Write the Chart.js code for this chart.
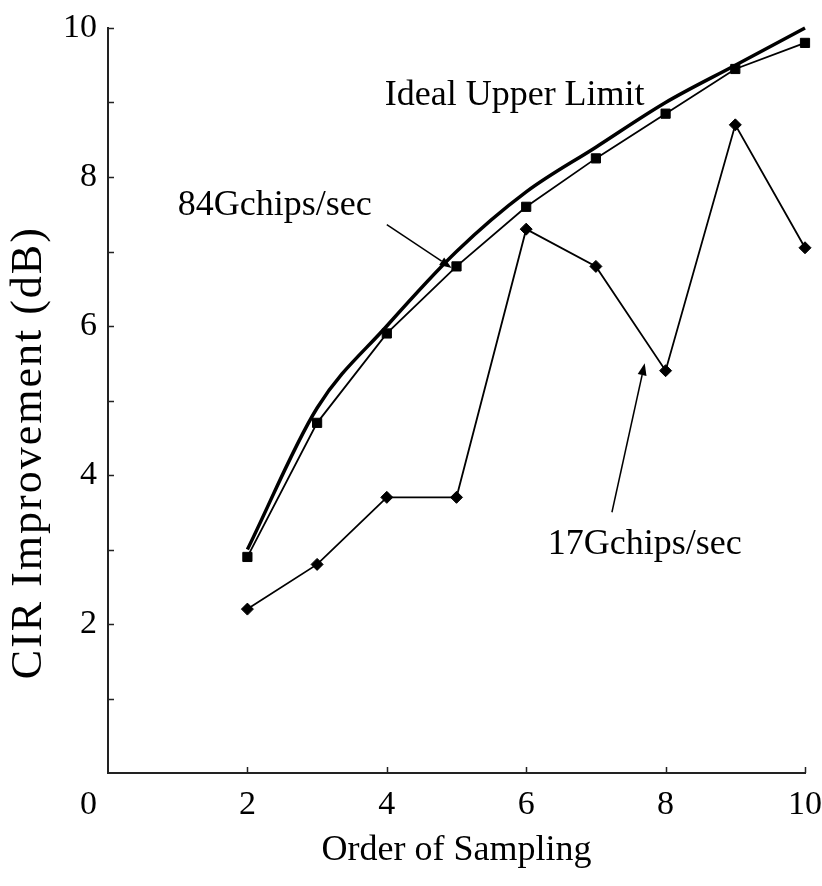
<!DOCTYPE html>
<html>
<head>
<meta charset="utf-8">
<script src="https://cdn.jsdelivr.net/npm/chart.js@4"></script>
<style>
  html, body { margin: 0; padding: 0; background: #fff; }
  #wrap { width: 822px; height: 886px; }
</style>
</head>
<body>
<div id="wrap"><canvas id="cirChart"></canvas></div>
<script>
const orders = [2, 3, 4, 5, 6, 7, 8, 9, 10];
const idealLimit = [3.0, 4.9, 6.0, 7.0, 7.8, 8.4, 9.0, 9.5, 10.0];
const rate84 = [2.9, 4.7, 5.9, 6.8, 7.6, 8.25, 8.85, 9.45, 9.8];
const rate17 = [2.2, 2.8, 3.7, 3.7, 7.3, 6.8, 5.4, 8.7, 7.05];

const xTicks = [2, 4, 6, 8, 10];
const yTicks = [2, 4, 6, 8, 10];
const yTickMarks = [1, 2, 3, 4, 5, 6, 7, 8, 9, 10];

const serif = '"Liberation Serif", "Times New Roman", serif';
const ink = '#000';
const axisColor = '#222';
const yTitle = 'CIR Improvement (dB)';

// text labels and arrows in data units
const notes = [
  { text: 'Ideal Upper Limit', x: 3.97, y: 8.97 },
  { text: '84Gchips/sec', x: 1.0, y: 7.49 },
  { text: '17Gchips/sec', x: 6.31, y: 2.94 }
];
const arrows = [
  { from: [4.0, 7.36], to: [4.93, 6.78] },
  { from: [7.23, 3.5], to: [7.7, 5.5] }
];

function toPoints(values) {
  return orders.map((x, i) => ({ x: x, y: values[i] }));
}

const axisMarks = {
  id: 'axisMarks',
  afterDraw(chart) {
    const ctx = chart.ctx;
    const { left, bottom } = chart.chartArea;
    const xs = chart.scales.x;
    const ys = chart.scales.y;
    ctx.save();
    ctx.strokeStyle = axisColor;
    ctx.lineWidth = 1.5;
    ctx.beginPath();
    yTickMarks.forEach(v => {
      const py = Math.round(ys.getPixelForValue(v)) + 0.5;
      ctx.moveTo(left, py);
      ctx.lineTo(left + 6, py);
    });
    xTicks.forEach(v => {
      const px = Math.round(xs.getPixelForValue(v)) + 0.5;
      ctx.moveTo(px, bottom);
      ctx.lineTo(px, bottom - 6);
    });
    ctx.stroke();

    ctx.fillStyle = ink;
    // shared origin label
    ctx.font = '34px ' + serif;
    ctx.textAlign = 'right';
    ctx.textBaseline = 'middle';
    ctx.fillText('0', left - 11, bottom + 32);

    // vertical axis title, sitting a little below the middle of the axis
    ctx.translate(29, ys.getPixelForValue(4.3));
    ctx.rotate(-Math.PI / 2);
    ctx.font = '44px ' + serif;
    ctx.letterSpacing = '2px';
    ctx.textAlign = 'center';
    ctx.fillText(yTitle, 0, 0);
    ctx.restore();
  }
};

const callouts = {
  id: 'callouts',
  afterDatasetsDraw(chart) {
    const ctx = chart.ctx;
    const xs = chart.scales.x;
    const ys = chart.scales.y;
    ctx.save();
    ctx.fillStyle = ink;
    ctx.strokeStyle = ink;
    ctx.font = '36px ' + serif;
    ctx.textAlign = 'left';
    ctx.textBaseline = 'alphabetic';
    notes.forEach(n => {
      ctx.fillText(n.text, xs.getPixelForValue(n.x), ys.getPixelForValue(n.y));
    });

    ctx.lineWidth = 1.5;
    arrows.forEach(a => {
      const x1 = xs.getPixelForValue(a.from[0]);
      const y1 = ys.getPixelForValue(a.from[1]);
      const x2 = xs.getPixelForValue(a.to[0]);
      const y2 = ys.getPixelForValue(a.to[1]);
      const ang = Math.atan2(y2 - y1, x2 - x1);
      const headLen = 12;
      const headW = 4.5;
      const bx = x2 - headLen * Math.cos(ang);
      const by = y2 - headLen * Math.sin(ang);
      ctx.beginPath();
      ctx.moveTo(x1, y1);
      ctx.lineTo(bx, by);
      ctx.stroke();
      ctx.beginPath();
      ctx.moveTo(x2, y2);
      ctx.lineTo(bx + headW * Math.sin(ang), by - headW * Math.cos(ang));
      ctx.lineTo(bx - headW * Math.sin(ang), by + headW * Math.cos(ang));
      ctx.closePath();
      ctx.fill();
    });
    ctx.restore();
  }
};

const ctx = document.getElementById('cirChart').getContext('2d');
new Chart(ctx, {
  type: 'line',
  data: {
    datasets: [
      {
        label: 'Ideal Upper Limit',
        data: toPoints(idealLimit),
        borderColor: ink,
        borderWidth: 3.5,
        pointRadius: 0,
        cubicInterpolationMode: 'monotone',
        clip: false
      },
      {
        label: '84Gchips/sec',
        data: toPoints(rate84),
        borderColor: ink,
        borderWidth: 1.8,
        backgroundColor: ink,
        pointStyle: 'rect',
        pointRadius: 6.5,
        pointBorderWidth: 1,
        pointBackgroundColor: ink,
        pointBorderColor: ink,
        tension: 0,
        clip: false
      },
      {
        label: '17Gchips/sec',
        data: toPoints(rate17),
        borderColor: ink,
        borderWidth: 1.8,
        backgroundColor: ink,
        pointStyle: 'rectRot',
        pointRadius: 6,
        pointBorderWidth: 1,
        pointBackgroundColor: ink,
        pointBorderColor: ink,
        tension: 0,
        clip: false
      }
    ]
  },
  options: {
    responsive: true,
    maintainAspectRatio: false,
    animation: false,
    layout: { padding: { top: 28, right: 17, left: 0, bottom: 0 } },
    plugins: {
      legend: { display: false },
      tooltip: { enabled: false }
    },
    scales: {
      x: {
        type: 'linear',
        min: 0,
        max: 10,
        afterBuildTicks: scale => { scale.ticks = xTicks.map(v => ({ value: v })); },
        afterFit: scale => {
          scale.height = 113;
          scale.paddingLeft = 0;
          scale.paddingRight = 0;
        },
        grid: { display: false, drawTicks: false },
        border: { display: true, color: axisColor, width: 2 },
        ticks: {
          color: ink,
          padding: 12,
          maxRotation: 0,
          autoSkip: false,
          font: { family: serif, size: 34 }
        },
        title: {
          display: true,
          text: 'Order of Sampling',
          color: ink,
          font: { family: serif, size: 36 },
          padding: { top: 0, bottom: 14 }
        }
      },
      y: {
        min: 0,
        max: 10,
        afterBuildTicks: scale => { scale.ticks = yTicks.map(v => ({ value: v })); },
        afterFit: scale => {
          scale.width = 108;
          scale.paddingTop = 0;
          scale.paddingBottom = 0;
        },
        grid: { display: false, drawTicks: false },
        border: { display: true, color: axisColor, width: 2 },
        ticks: {
          color: ink,
          padding: 11,
          autoSkip: false,
          font: { family: serif, size: 34 }
        }
      }
    }
  },
  plugins: [axisMarks, callouts]
});
</script>
</body>
</html>
